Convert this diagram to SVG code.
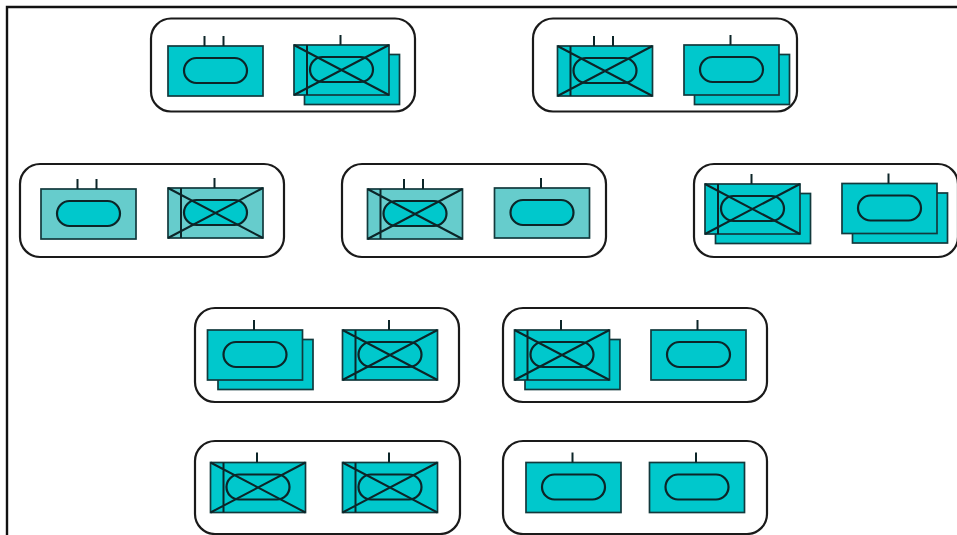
<svg xmlns="http://www.w3.org/2000/svg" width="957" height="535" viewBox="0 0 957 535">
<style>
.box{fill:#fff;stroke:#1a1a1a;stroke-width:2.2}
.f{fill:#00c8cc;stroke:#12393c;stroke-width:1.7}
.m{fill:#66cccc;stroke:#12393c;stroke-width:1.7}
.p{fill:#00c8cc;stroke:#0c2528;stroke-width:2.2}
.pn{fill:none;stroke:#0c2528;stroke-width:2}
.x{fill:none;stroke:#0c2528;stroke-width:2}
</style>
<defs>
<g id="pill"><rect x="16" y="12" width="63" height="25" rx="12.500" class="p"/></g>
<g id="pin1"><path d="M46.500 0V-10" class="pn"/></g>
<g id="pin2"><path d="M36.500 0V-10M55.500 0V-10" class="pn"/></g>
<g id="cross"><path d="M0 0L95 50M0 50L95 0M13 0V50" class="x"/></g>
<g id="back"><rect x="10.500" y="9.500" width="95" height="50" class="f"/></g>
</defs>
<rect width="957" height="535" fill="#fff"/>
<path d="M7 535V7H957" fill="none" stroke="#111" stroke-width="2.400"/>
<g id="n1"><rect class="box" x="151" y="18.500" width="264" height="93" rx="20"/>
<g transform="translate(168 46)"><rect class="f" width="95" height="50"/><use href="#pill"/><use href="#pin2"/></g>
<g transform="translate(294 45)"><use href="#back"/><rect class="f" width="95" height="50"/><use href="#pill"/><use href="#cross"/><use href="#pin1"/></g></g>
<g id="n2"><rect class="box" x="533" y="18.500" width="264" height="93" rx="20"/>
<g transform="translate(557.500 46)"><rect class="f" width="95" height="50"/><use href="#pill"/><use href="#cross"/><use href="#pin2"/></g>
<g transform="translate(684 45)"><use href="#back"/><rect class="f" width="95" height="50"/><use href="#pill"/><use href="#pin1"/></g></g>
<g id="n3"><rect class="box" x="20" y="164" width="264" height="93" rx="20"/>
<g transform="translate(41 189)"><rect class="m" width="95" height="50"/><use href="#pill"/><use href="#pin2"/></g>
<g transform="translate(168 188)"><rect class="m" width="95" height="50"/><use href="#pill"/><use href="#cross"/><use href="#pin1"/></g></g>
<g id="n4"><rect class="box" x="342" y="164" width="264" height="93" rx="20"/>
<g transform="translate(367.500 189)"><rect class="m" width="95" height="50"/><use href="#pill"/><use href="#cross"/><use href="#pin2"/></g>
<g transform="translate(494.500 188)"><rect class="m" width="95" height="50"/><use href="#pill"/><use href="#pin1"/></g></g>
<g id="n5"><rect class="box" x="694" y="164" width="264" height="93" rx="20"/>
<g transform="translate(705 184)"><use href="#back"/><rect class="f" width="95" height="50"/><use href="#pill"/><use href="#cross"/><use href="#pin1"/></g>
<g transform="translate(842 183.500)"><use href="#back"/><rect class="f" width="95" height="50"/><use href="#pill"/><use href="#pin1"/></g></g>
<g id="n6"><rect class="box" x="195" y="308" width="264" height="94" rx="20"/>
<g transform="translate(207.500 330)"><use href="#back"/><rect class="f" width="95" height="50"/><use href="#pill"/><use href="#pin1"/></g>
<g transform="translate(342.500 330)"><rect class="f" width="95" height="50"/><use href="#pill"/><use href="#cross"/><use href="#pin1"/></g></g>
<g id="n7"><rect class="box" x="503" y="308" width="264" height="94" rx="20"/>
<g transform="translate(514.500 330)"><use href="#back"/><rect class="f" width="95" height="50"/><use href="#pill"/><use href="#cross"/><use href="#pin1"/></g>
<g transform="translate(651 330)"><rect class="f" width="95" height="50"/><use href="#pill"/><use href="#pin1"/></g></g>
<g id="n8"><rect class="box" x="195" y="441" width="265" height="93" rx="20"/>
<g transform="translate(210.500 462.500)"><rect class="f" width="95" height="50"/><use href="#pill"/><use href="#cross"/><use href="#pin1"/></g>
<g transform="translate(342.500 462.500)"><rect class="f" width="95" height="50"/><use href="#pill"/><use href="#cross"/><use href="#pin1"/></g></g>
<g id="n9"><rect class="box" x="503" y="441" width="264" height="93" rx="20"/>
<g transform="translate(526 462.500)"><rect class="f" width="95" height="50"/><use href="#pill"/><use href="#pin1"/></g>
<g transform="translate(649.500 462.500)"><rect class="f" width="95" height="50"/><use href="#pill"/><use href="#pin1"/></g></g>
</svg>
